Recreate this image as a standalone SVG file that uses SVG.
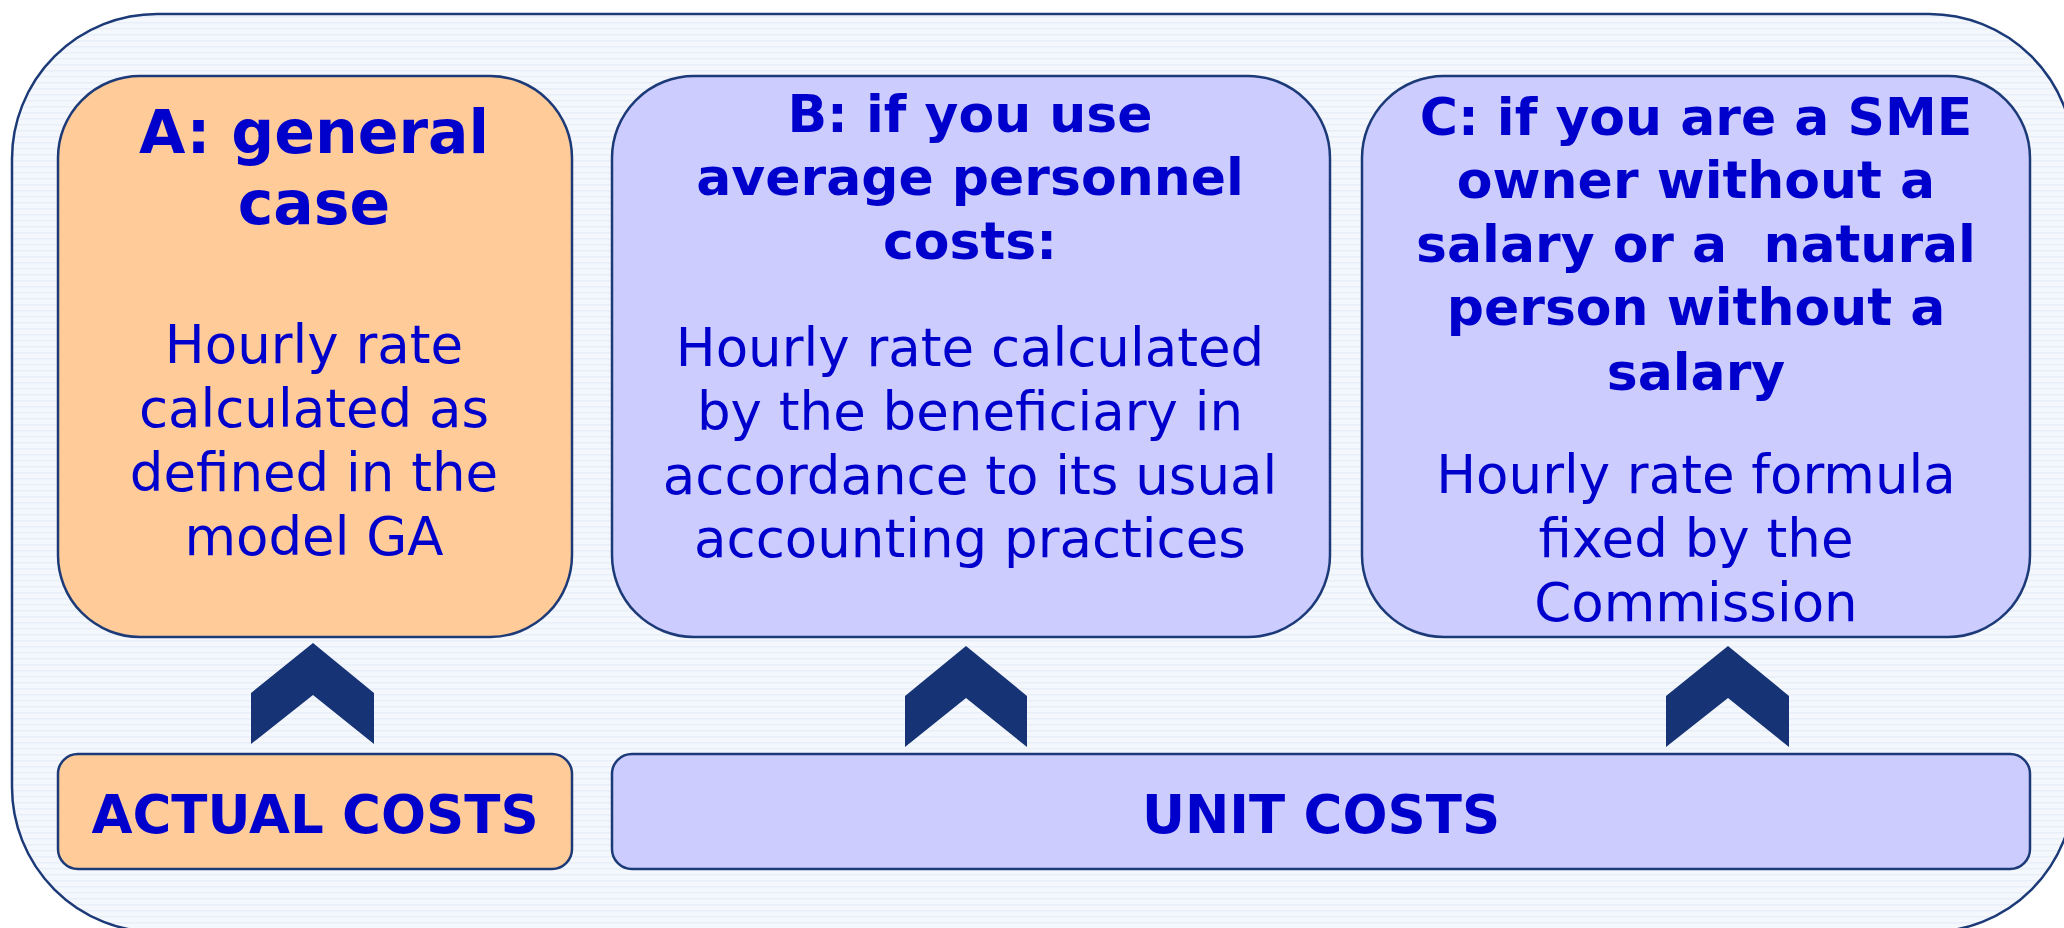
<svg xmlns="http://www.w3.org/2000/svg" width="2064" height="928" viewBox="0 0 2064 928">
<style>
.node{stroke:#1c3a78;stroke-width:2.5}
.orange{fill:#FFCC99}
.lilac{fill:#CCCCFF}
.title{font-family:"DejaVu Sans",Verdana,sans-serif;font-weight:bold;fill:#0000CC;text-anchor:middle}
.body{font-family:"DejaVu Sans",Verdana,sans-serif;font-size:53px;fill:#0000CC;text-anchor:middle}
.chev{fill:#163375}
</style>
<defs>
<pattern id="stripes" width="8" height="6" patternUnits="userSpaceOnUse">
<rect width="8" height="6" fill="#F4F7FC"/>
<rect y="4" width="8" height="1.5" fill="#E9EFF9"/>
</pattern>
</defs>
<rect width="2064" height="928" fill="#FFFFFF"/>
<g id="frame">
<rect x="12" y="14" width="2062" height="918" rx="145" ry="145" fill="url(#stripes)" stroke="#1c3a78" stroke-width="2.5"/>
</g>
<g id="nodeA">
<rect class="node orange" x="58" y="76" width="514" height="561" rx="82" ry="82"/>
<text class="title" font-size="60" x="314"><tspan x="314" y="153">A: general</tspan><tspan x="314" y="224">case</tspan></text>
<text class="body"><tspan x="314" y="363">Hourly rate</tspan><tspan x="314" y="427">calculated as</tspan><tspan x="314" y="491">defined in the</tspan><tspan x="314" y="555">model GA</tspan></text>
</g>
<g id="nodeB">
<rect class="node lilac" x="612" y="76" width="718" height="561" rx="82" ry="82"/>
<text class="title" font-size="52"><tspan x="970" y="132">B: if you use</tspan><tspan x="970" y="195">average personnel</tspan><tspan x="970" y="259">costs:</tspan></text>
<text class="body"><tspan x="970" y="366">Hourly rate calculated</tspan><tspan x="970" y="430">by the beneficiary in</tspan><tspan x="970" y="494">accordance to its usual</tspan><tspan x="970" y="557">accounting practices</tspan></text>
</g>
<g id="nodeC">
<rect class="node lilac" x="1362" y="76" width="668" height="561" rx="82" ry="82"/>
<text class="title" font-size="52" xml:space="preserve"><tspan x="1696" y="135">C: if you are a SME</tspan><tspan x="1696" y="198">owner without a</tspan><tspan x="1696" y="262">salary or a  natural</tspan><tspan x="1696" y="325">person without a</tspan><tspan x="1696" y="390">salary</tspan></text>
<text class="body"><tspan x="1696" y="493">Hourly rate formula</tspan><tspan x="1696" y="557">fixed by the</tspan><tspan x="1696" y="621">Commission</tspan></text>
</g>
<g id="actualCosts">
<rect class="node orange" x="58" y="754" width="514" height="115" rx="20" ry="20"/>
<text class="title" font-size="53" x="315" y="833">ACTUAL COSTS</text>
</g>
<g id="unitCosts">
<rect class="node lilac" x="612" y="754" width="1418" height="115" rx="20" ry="20"/>
<text class="title" font-size="53" x="1321" y="833">UNIT COSTS</text>
</g>
<g id="connectors">
<polygon class="chev" points="251,693 313,643 374,693 374,744 313,695 251,744"/>
<polygon class="chev" points="905,696 966,646 1027,696 1027,747 966,698 905,747"/>
<polygon class="chev" points="1666,696 1728,646 1789,696 1789,747 1728,698 1666,747"/>
</g>
</svg>
